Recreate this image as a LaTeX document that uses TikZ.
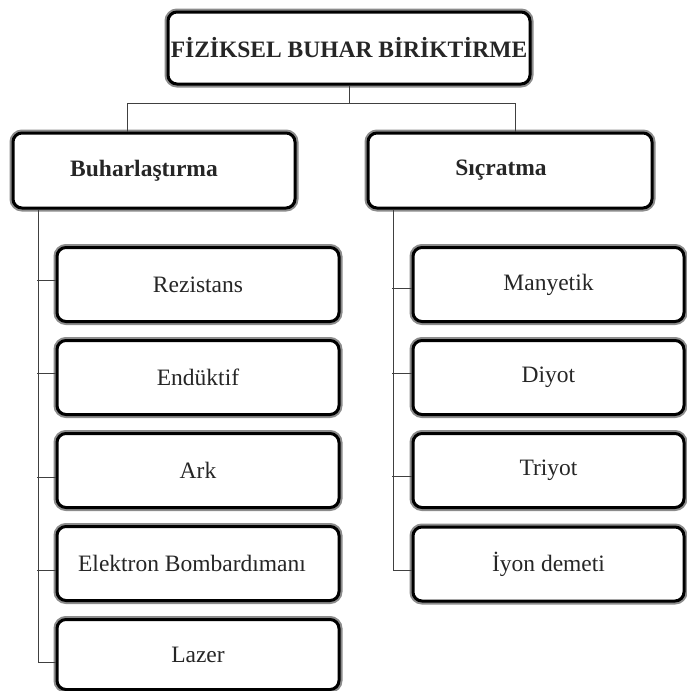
\documentclass[tikz,border=0pt]{standalone}
\usepackage{fontspec}
\setmainfont{Liberation Serif}
\begin{document}
\begin{tikzpicture}[x=1pt,y=-1pt,
  box/.style={rectangle, rounded corners=9pt, fill=white, draw=black, line width=3pt,
    preaction={draw=black!45, line width=7pt},
    inner sep=0pt, font=\fontsize{23.5}{28}\selectfont, text=black!85},
  conn/.style={draw=black!75, line width=1pt}]
\useasboundingbox (0,0) rectangle (686,691);
% nodes
\node[box, minimum width=362pt, minimum height=72pt, font=\fontsize{23.5}{28}\selectfont\bfseries] (title) at (349,48) {FİZİKSEL BUHAR BİRİKTİRME};
\node[box, minimum width=282pt, minimum height=75pt] (buhar) at (154,170.5) {\bfseries\hspace*{-20pt}Buharlaştırma};
\node[box, minimum width=284pt, minimum height=75pt] (sic) at (510,170.5) {\bfseries\hspace*{-18pt}Sıçratma};
% left children
\node[box, minimum width=282pt, minimum height=74pt] (rez) at (198,284.5) {Rezistans};
\node[box, minimum width=282pt, minimum height=74pt] (end) at (198,377.5) {Endüktif};
\node[box, minimum width=282pt, minimum height=74pt] (ark) at (198,470.5) {Ark};
\node[box, minimum width=282pt, minimum height=74pt] (ele) at (198,563.5) {\hspace*{-12pt}Elektron Bombardımanı};
\node[box, minimum width=282pt, minimum height=70pt] (laz) at (198,654.5) {Lazer};
% right children
\node[box, minimum width=271pt, minimum height=74pt] (man) at (548.5,284.5) {Manyetik};
\node[box, minimum width=271pt, minimum height=74pt] (diy) at (548.5,377.5) {Diyot};
\node[box, minimum width=271pt, minimum height=74pt] (tri) at (548.5,470.5) {Triyot};
\node[box, minimum width=271pt, minimum height=74pt] (iyo) at (548.5,564) {İyon demeti};
% connectors
\coordinate (bl) at (127,103);
\coordinate (br) at (515,103);
\coordinate (lt) at (38,0);
\coordinate (rt) at (393,0);
\draw[conn] (title.south) -- (title.south |- bl);
\draw[conn] (buhar.north -| bl) -- (bl) -- (br) -- (sic.north -| br);
\draw[conn] (buhar.south -| lt) |- ([yshift=-7.5pt]laz.west);
\draw[conn] ([yshift=4.5pt]rez.west) -- ++(-19,0);
\draw[conn] ([yshift=4.5pt]end.west) -- ++(-19,0);
\draw[conn] ([yshift=-6.5pt]ark.west) -- ++(-19,0);
\draw[conn] ([yshift=-6.5pt]ele.west) -- ++(-19,0);
\draw[conn] (sic.south -| rt) |- ([yshift=-6pt]iyo.west);
\draw[conn] ([yshift=-4pt]man.west) -- ++(-20,0);
\draw[conn] ([yshift=4.5pt]diy.west) -- ++(-20,0);
\draw[conn] ([yshift=-5.5pt]tri.west) -- ++(-20,0);
\end{tikzpicture}
\end{document}
